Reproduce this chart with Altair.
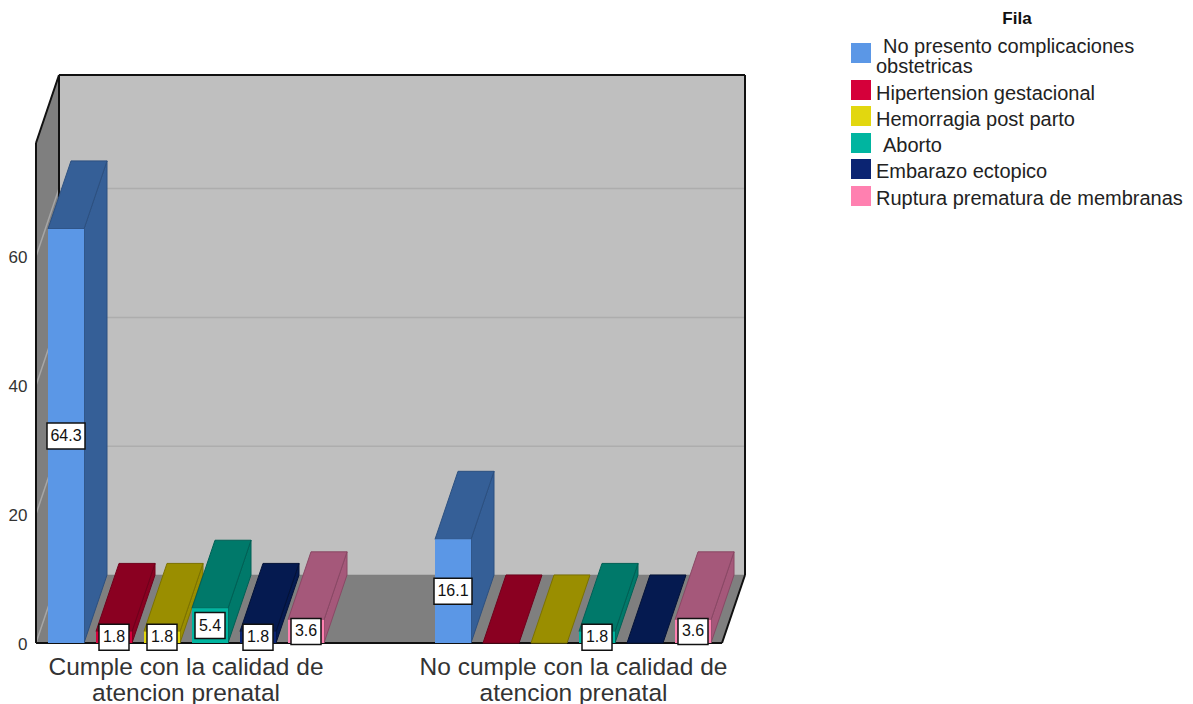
import altair as alt
import pandas as pd

# Percentages by prenatal-care group and obstetric complication
groups = [
    ["Cumple con la calidad de", "atencion prenatal"],
    ["No cumple con la calidad de", "atencion prenatal"],
]
series = [
    "No presento complicaciones obstetricas",
    "Hipertension gestacional",
    "Hemorragia post parto",
    "Aborto",
    "Embarazo ectopico",
    "Ruptura prematura de membranas",
]
values_cumple = [64.3, 1.8, 1.8, 5.4, 1.8, 3.6]
values_no_cumple = [16.1, 0, 0, 1.8, 0, 3.6]
front_colors = ["#5B97E6", "#D5003A", "#E2D70F", "#00B5A0", "#0B2472", "#FF80B0"]
shade_colors = ["#355F97", "#8A0021", "#9A8E00", "#00796A", "#051A50", "#A5587A"]
edge_colors = ["#2C5080", "#70001B", "#7C7200", "#006055", "#031238", "#8A4865"]

# Oblique projection: depth shift along x (px-like units) and along y (percent units)
PX_PER_UNIT = 6.44
DEPTH_X = 23
DEPTH_Y = 68 / PX_PER_UNIT
PLOT_W = 709
PLOT_H = 568
WALL_TOP = (PLOT_H - 68) / PX_PER_UNIT
FLOOR_W = 686
BAR_W = 36
BAR_STEP = 48
GROUP_START = [12, 399]
GROUP_CENTER = [149.5, 537]
TICKS = [0, 20, 40, 60]
PAD_LEFT = 36
PAD_TOP = 75


def units_x(px):
    """Horizontal canvas position expressed in x-scale units."""
    return px - PAD_LEFT


def units_y(py):
    """Vertical canvas position expressed in y-scale units."""
    return (PAD_TOP + PLOT_H - py) / PX_PER_UNIT


def slanted(poly, fill, stroke, x0, x1, y0, y1):
    """Side face: a vertical span [y0, y1] at x0 pushed back in depth at x1."""
    return [
        dict(poly=poly, fill=fill, stroke=stroke, x=x0, lo=y0, hi=y1),
        dict(poly=poly, fill=fill, stroke=stroke, x=x1, lo=y0 + DEPTH_Y, hi=y1 + DEPTH_Y),
    ]


def flat(poly, fill, stroke, x0, x1, y):
    """Horizontal face at height y, front edge from x0 to x1, receding in depth."""
    return [
        dict(poly=poly, fill=fill, stroke=stroke, x=x0, lo=y, hi=y),
        dict(poly=poly, fill=fill, stroke=stroke, x=x0 + DEPTH_X, lo=y, hi=y + DEPTH_Y),
        dict(poly=poly, fill=fill, stroke=stroke, x=x1, lo=y, hi=y + DEPTH_Y),
        dict(poly=poly, fill=fill, stroke=stroke, x=x1 + DEPTH_X, lo=y + DEPTH_Y, hi=y + DEPTH_Y),
    ]


# Room: back wall, left wall and floor
room = [
    dict(poly="back", fill="#BFBFBF", stroke="#BFBFBF", x=DEPTH_X, lo=DEPTH_Y, hi=DEPTH_Y + WALL_TOP),
    dict(poly="back", fill="#BFBFBF", stroke="#BFBFBF", x=DEPTH_X + FLOOR_W, lo=DEPTH_Y, hi=DEPTH_Y + WALL_TOP),
]
room += slanted("left", "#7F7F7F", "#7F7F7F", 0, DEPTH_X, 0, WALL_TOP)
room += flat("floor", "#7F7F7F", "#7F7F7F", 0, FLOOR_W, 0)
room_df = pd.DataFrame(room)

# Gridlines, carried from the left wall onto the back wall
grid = []
for t in TICKS:
    grid.append(dict(line=f"l{t}", color="#A6A6A6", x=0, y=t))
    grid.append(dict(line=f"l{t}", color="#A6A6A6", x=DEPTH_X, y=t + DEPTH_Y))
    if t > 0:
        grid.append(dict(line=f"b{t}", color="#ADADAD", x=DEPTH_X, y=t + DEPTH_Y))
        grid.append(dict(line=f"b{t}", color="#ADADAD", x=DEPTH_X + FLOOR_W, y=t + DEPTH_Y))
grid_df = pd.DataFrame(grid)

# Black edges of the room
corners = {
    "a": (0, 0), "b": (0, WALL_TOP), "c": (DEPTH_X, DEPTH_Y + WALL_TOP),
    "d": (DEPTH_X + FLOOR_W, DEPTH_Y + WALL_TOP), "e": (DEPTH_X + FLOOR_W, DEPTH_Y),
    "f": (FLOOR_W, 0), "g": (DEPTH_X, DEPTH_Y),
}
edges = []
for name, (p, q) in enumerate(["ab", "bc", "cd", "de", "ef", "fa", "cg"]):
    for c in (p, q):
        edges.append(dict(line=name, x=corners[c][0], y=corners[c][1]))
edge_df = pd.DataFrame(edges)

# Bars: receding faces, front faces and value labels
faces, fronts, labels = [], [], []
for g, vals in enumerate([values_cumple, values_no_cumple]):
    for s, v in enumerate(vals):
        x0 = GROUP_START[g] + s * BAR_STEP
        x1 = x0 + BAR_W
        if v > 0:
            faces += slanted(f"{g}-{s}-side", shade_colors[s], edge_colors[s], x1, x1 + DEPTH_X, 0, v)
        faces += flat(f"{g}-{s}-top", shade_colors[s], edge_colors[s], x0, x1, v)
        fronts.append(dict(series=series[s], x0=x0, x1=x1, y=0, y2=v))
        if v > 0:
            half_w = 19 if v >= 10 else 15
            half_h = 13 / PX_PER_UNIT
            labels.append(dict(text=f"{v:.1f}", cx=x0 + BAR_W / 2, x0=x0 + BAR_W / 2 - half_w,
                               x1=x0 + BAR_W / 2 + half_w, cy=v / 2,
                               y0=v / 2 - half_h, y1=v / 2 + half_h))
face_df = pd.DataFrame(faces)
front_df = pd.DataFrame(fronts)
label_df = pd.DataFrame(labels)

# Legend block drawn in the same coordinates as the chart
swatch_centers = [53, 90, 116, 143, 169, 196]
swatch_df = pd.DataFrame([
    dict(series=name, x0=units_x(851), x1=units_x(871), y0=units_y(c + 10), y1=units_y(c - 10))
    for name, c in zip(series, swatch_centers)
])
legend_lines = [
    ("No presento complicaciones", 883, 47),
    ("obstetricas", 876, 67),
    ("Hipertension gestacional", 876, 94),
    ("Hemorragia post parto", 876, 120),
    ("Aborto", 883, 146),
    ("Embarazo ectopico", 876, 172),
    ("Ruptura prematura de membranas", 876, 199),
]
legend_df = pd.DataFrame([dict(text=t, x=units_x(px), y=units_y(py)) for t, px, py in legend_lines])
legend_title_df = pd.DataFrame([dict(text="Fila", x=units_x(1017), y=units_y(18.5))])

x_scale = alt.Scale(domain=[0, PLOT_W], nice=False, zero=False)
y_scale = alt.Scale(domain=[0, PLOT_H / PX_PER_UNIT], nice=False, zero=False)
fill_scale = alt.Scale(domain=series, range=front_colors)

x_axis = alt.Axis(
    values=GROUP_CENTER, title=None, grid=False, domain=False, ticks=False,
    labelExpr=f"datum.value < 300 ? {groups[0]!r} : {groups[1]!r}",
    labelFont="Liberation Sans", labelFontSize=24.5, labelColor="#333333", labelLimit=500,
    labelLineHeight=26, labelPadding=12, labelOverlap=False, labelFlush=False, labelBound=False,
)
y_axis = alt.Axis(
    values=TICKS, title=None, grid=False, domain=False, ticks=False,
    labelFont="Liberation Sans", labelFontSize=17, labelColor="#333333", labelPadding=9,
    labelOffset=1,
)


def X(field):
    return alt.X(field, scale=x_scale, axis=x_axis)


def Y(field):
    return alt.Y(field, scale=y_scale, axis=y_axis)


room_layer = alt.Chart(room_df).mark_area(strokeWidth=0.5).encode(
    x=X("x:Q"), y=Y("lo:Q"), y2="hi:Q",
    fill=alt.Fill("fill:N", scale=None), stroke=alt.Stroke("stroke:N", scale=None),
    detail="poly:N",
)
grid_layer = alt.Chart(grid_df).mark_line(strokeWidth=1.5).encode(
    x=X("x:Q"), y=Y("y:Q"),
    color=alt.Color("color:N", scale=None), detail="line:N",
)
edge_layer = alt.Chart(edge_df).mark_line(strokeWidth=2, color="#111111").encode(
    x=X("x:Q"), y=Y("y:Q"), detail="line:N",
)
face_layer = alt.Chart(face_df).mark_area(strokeWidth=1).encode(
    x=X("x:Q"), y=Y("lo:Q"), y2="hi:Q",
    fill=alt.Fill("fill:N", scale=None), stroke=alt.Stroke("stroke:N", scale=None),
    detail="poly:N",
)
front_layer = alt.Chart(front_df).mark_rect().encode(
    x=X("x0:Q"), x2="x1:Q", y=Y("y:Q"), y2="y2:Q",
    fill=alt.Fill("series:N", scale=fill_scale, legend=None),
)
box_layer = alt.Chart(label_df).mark_rect(fill="white", stroke="#111111", strokeWidth=1.5).encode(
    x=X("x0:Q"), x2="x1:Q", y=Y("y0:Q"), y2="y1:Q",
)
text_layer = alt.Chart(label_df).mark_text(font="Liberation Sans", fontSize=16, color="#111111").encode(
    x=X("cx:Q"), y=Y("cy:Q"), text="text:N",
)
swatch_layer = alt.Chart(swatch_df).mark_rect().encode(
    x=X("x0:Q"), x2="x1:Q", y=Y("y0:Q"), y2="y1:Q",
    fill=alt.Fill("series:N", scale=fill_scale, legend=None),
)
legend_text = alt.Chart(legend_df).mark_text(
    font="Liberation Sans", fontSize=20, color="#222222", align="left"
).encode(x=X("x:Q"), y=Y("y:Q"), text="text:N")
legend_title = alt.Chart(legend_title_df).mark_text(
    font="Liberation Sans", fontSize=17, fontWeight="bold", color="#111111", align="center"
).encode(x=X("x:Q"), y=Y("y:Q"), text="text:N")

chart = alt.layer(
    room_layer, grid_layer, edge_layer, face_layer, front_layer, box_layer, text_layer,
    swatch_layer, legend_text, legend_title,
).properties(
    width=PLOT_W, height=PLOT_H,
    autosize=alt.AutoSizeParams(type="none"),
    padding={"left": PAD_LEFT, "top": PAD_TOP, "right": 448, "bottom": 61},
    background="white",
).configure_view(stroke=None)

chart.save("out.html", embed_options={"renderer": "svg", "actions": False})
